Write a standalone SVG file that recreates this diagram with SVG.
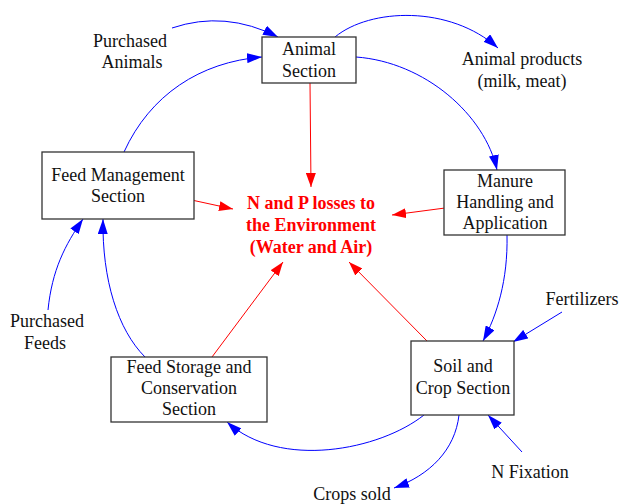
<svg xmlns="http://www.w3.org/2000/svg" width="621" height="504" viewBox="0 0 621 504" font-family="'Liberation Serif', 'Times New Roman', Times, serif">
  <style>
    .box { fill: #ffffff; stroke: #333333; stroke-width: 1.3; }
    .lbl { font-size: 18px; fill: #111111; text-anchor: middle; }
    .loss { font-size: 18px; font-weight: bold; fill: #ff0000; text-anchor: middle; }
    .flow { fill: none; stroke: #0000ff; stroke-width: 1; marker-end: url(#arrowBlue); }
    .leak { fill: none; stroke: #ff0000; stroke-width: 1; marker-end: url(#arrowRed); }
  </style>
  <defs>
    <marker id="arrowBlue" viewBox="0 0 15 10" refX="15" refY="5" markerWidth="15" markerHeight="10" markerUnits="userSpaceOnUse" orient="auto">
      <path d="M0,0 L15,5 L0,10 z" fill="#0000ff"/>
    </marker>
    <marker id="arrowRed" viewBox="0 0 14 10" refX="14" refY="5" markerWidth="14" markerHeight="10" markerUnits="userSpaceOnUse" orient="auto">
      <path d="M0,0 L14,5 L0,10 z" fill="#ff0000"/>
    </marker>
  </defs>

  <rect width="621" height="504" fill="#ffffff"/>

  <!-- connectors -->
  <g id="connectors">
    <!-- nutrient flows (blue) -->
    <path class="flow" d="M172,28 Q225,10 278,37"/>
    <path class="flow" d="M124,152 C150,95 200,62 262,57"/>
    <path class="flow" d="M335,37 C370,8 450,5 498,48"/>
    <path class="flow" d="M356,57 C425,62 485,115 497,170"/>
    <path class="flow" d="M507,235 C508,280 497,315 483,341"/>
    <path class="flow" d="M562,312 L513,342"/>
    <path class="flow" d="M522,452 L488,415"/>
    <path class="flow" d="M459,415 C455,450 430,475 394,488"/>
    <path class="flow" d="M424,415 C380,450 280,470 227,422"/>
    <path class="flow" d="M145,357 C118,330 102,280 103,219"/>
    <path class="flow" d="M48,310 C52,270 65,245 83,219"/>
    <!-- losses (red) -->
    <path class="leak" d="M310,83 L311,187"/>
    <path class="leak" d="M187,199 L233,209"/>
    <path class="leak" d="M445,208 L392,215"/>
    <path class="leak" d="M212,357 L283,262"/>
    <path class="leak" d="M427,341 L349,262"/>
  </g>

  <!-- nodes -->
  <g id="animal-section">
    <rect class="box" x="262" y="37" width="94" height="46"/>
    <text class="lbl" x="309" y="55">Animal</text>
    <text class="lbl" x="309" y="77">Section</text>
  </g>

  <g id="manure">
    <rect class="box" x="444" y="170" width="121" height="65"/>
    <text class="lbl" x="505" y="187">Manure</text>
    <text class="lbl" x="505" y="208">Handling and</text>
    <text class="lbl" x="505" y="229">Application</text>
  </g>

  <g id="feed-management">
    <rect class="box" x="42" y="152" width="152" height="67"/>
    <text class="lbl" x="118" y="181">Feed Management</text>
    <text class="lbl" x="118" y="202">Section</text>
  </g>

  <g id="feed-storage">
    <rect class="box" x="111" y="357" width="156" height="65"/>
    <text class="lbl" x="189" y="373">Feed Storage and</text>
    <text class="lbl" x="189" y="394">Conservation</text>
    <text class="lbl" x="189" y="415">Section</text>
  </g>

  <g id="soil-crop">
    <rect class="box" x="411" y="341" width="103" height="74"/>
    <text class="lbl" x="463" y="372">Soil and</text>
    <text class="lbl" x="463" y="394">Crop Section</text>
  </g>

  <g id="losses">
    <text class="loss" x="311" y="209">N and P losses to</text>
    <text class="loss" x="311" y="231">the Environment</text>
    <text class="loss" x="311" y="253">(Water and Air)</text>
  </g>

  <g id="purchased-animals">
    <text class="lbl" x="130" y="47">Purchased</text>
    <text class="lbl" x="132" y="68">Animals</text>
  </g>

  <g id="animal-products">
    <text class="lbl" x="522" y="65">Animal products</text>
    <text class="lbl" x="522" y="87">(milk, meat)</text>
  </g>

  <g id="fertilizers">
    <text class="lbl" x="582" y="305">Fertilizers</text>
  </g>

  <g id="n-fixation">
    <text class="lbl" x="530" y="478">N Fixation</text>
  </g>

  <g id="crops-sold">
    <text class="lbl" x="352" y="500">Crops sold</text>
  </g>

  <g id="purchased-feeds">
    <text class="lbl" x="47" y="327">Purchased</text>
    <text class="lbl" x="45" y="349">Feeds</text>
  </g>
</svg>
